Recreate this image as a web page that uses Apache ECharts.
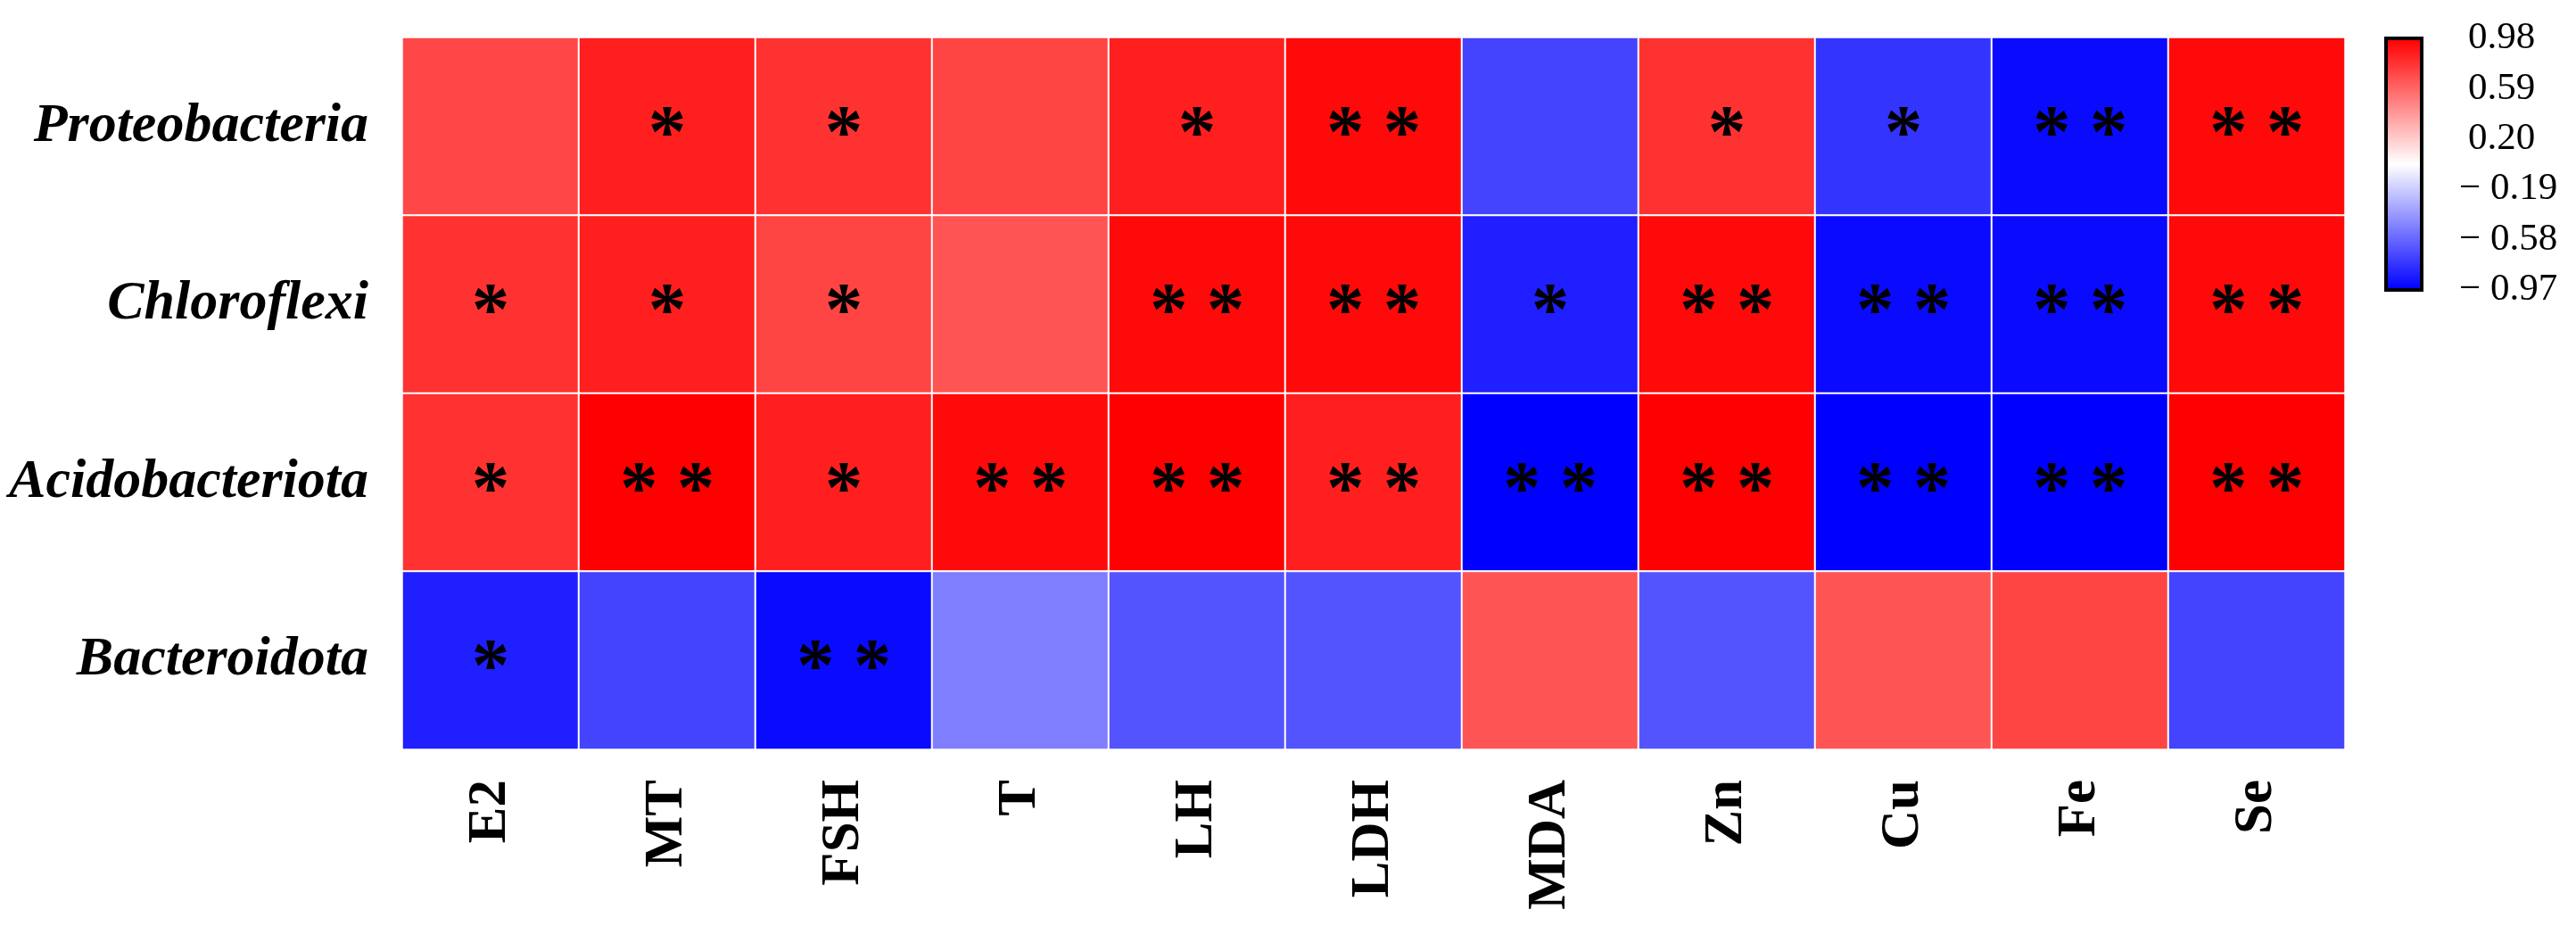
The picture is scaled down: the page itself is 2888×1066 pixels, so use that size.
<!DOCTYPE html>
<html>
<head>
<meta charset="utf-8">
<script src="https://cdn.jsdelivr.net/npm/echarts@6/dist/echarts.min.js"></script>
<style>
  html, body { margin: 0; padding: 0; background: #fff; }
  #container { width: 2888px; height: 1066px; }
</style>
</head>
<body>
<div id="container"></div>
<script>
var xCats = ['E2', 'MT', 'FSH', 'T', 'LH', 'LDH', 'MDA', 'Zn', 'Cu', 'Fe', 'Se'];
var yCats = ['Proteobacteria', 'Chloroflexi', 'Acidobacteriota', 'Bacteroidota'];

// correlation values
var rProteo = [0.71, 0.86, 0.79, 0.72, 0.86, 0.94, -0.71, 0.79, -0.77, -0.93, 0.94];
var rChloro = [0.79, 0.86, 0.72, 0.66, 0.94, 0.94, -0.85, 0.94, -0.93, -0.93, 0.94];
var rAcido  = [0.79, 0.98, 0.86, 0.94, 0.98, 0.86, -0.97, 0.98, -0.97, -0.97, 0.98];
var rBacte  = [-0.85, -0.71, -0.93, -0.49, -0.65, -0.65, 0.66, -0.65, 0.66, 0.72, -0.71];

// significance marks
var sProteo = ['', '*', '*', '', '*', '**', '', '*', '*', '**', '**'];
var sChloro = ['*', '*', '*', '', '**', '**', '*', '**', '**', '**', '**'];
var sAcido  = ['*', '**', '*', '**', '**', '**', '**', '**', '**', '**', '**'];
var sBacte  = ['*', '', '**', '', '', '', '', '', '', '', ''];

// colour bar tick labels, bottom to top
var barTicks = ['− 0.97', '− 0.58', '− 0.19', '0.20', '0.59', '0.98'];

var rows = [rProteo, rChloro, rAcido, rBacte];
var sigs = [sProteo, sChloro, sAcido, sBacte];
var data = [];
for (var i = 0; i < rows.length; i++) {
  for (var j = 0; j < xCats.length; j++) {
    data.push([j, i, rows[i][j], sigs[i][j]]);
  }
}

var serif = 'Liberation Serif, Times New Roman, serif';
var dom = document.getElementById('container');
var myChart = echarts.init(dom, null, {renderer: 'canvas'});

myChart.setOption({
  backgroundColor: '#fff',
  animation: false,
  grid: [
    {left: 451, right: 259, top: 42, bottom: 226},
    {left: 2675, width: 40, top: 43, height: 282, show: true, z: 10,
      borderColor: '#000', borderWidth: 4, backgroundColor: 'transparent'}
  ],
  xAxis: [
    {
      type: 'category',
      data: xCats,
      axisLine: {show: false},
      axisTick: {show: false},
      splitLine: {show: false},
      axisLabel: {
        rotate: 90,
        margin: 34,
        interval: 0,
        fontFamily: serif,
        fontWeight: 'bold',
        fontSize: 61,
        color: '#000'
      }
    },
    {type: 'value', gridIndex: 1, show: false}
  ],
  yAxis: [
    {
      type: 'category',
      data: yCats,
      inverse: true,
      axisLine: {show: false},
      axisTick: {show: false},
      splitLine: {show: false},
      axisLabel: {
        margin: 38,
        fontFamily: serif,
        fontWeight: 'bold',
        fontStyle: 'italic',
        fontSize: 62,
        color: '#000'
      }
    },
    {
      type: 'category',
      gridIndex: 1,
      data: barTicks,
      position: 'right',
      boundaryGap: false,
      axisLine: {show: false},
      splitLine: {show: false},
      axisTick: {show: true, inside: false, length: 20, lineStyle: {color: '#000', width: 3}},
      axisLabel: {
        margin: 42,
        align: 'left',
        fontFamily: serif,
        fontSize: 43,
        color: '#000',
        formatter: function (v) {
          return v.indexOf('−') === 0 ? v : '{p|' + v + '}';
        },
        rich: {
          p: {fontFamily: serif, fontSize: 43, color: '#000', padding: [0, 0, 0, 10]}
        }
      }
    }
  ],
  visualMap: {
    type: 'continuous',
    min: -0.97,
    max: 0.98,
    dimension: 2,
    seriesIndex: 0,
    calculable: false,
    orient: 'vertical',
    left: 2675,
    top: 43,
    itemWidth: 40,
    itemHeight: 282,
    padding: 0,
    text: null,
    hoverLink: false,
    inRange: {color: ['#0000FF', '#FFFFFF', '#FF0000']}
  },
  series: [
    {
      type: 'heatmap',
      data: data,
      itemStyle: {borderColor: '#fff', borderWidth: 2},
      label: {
        show: true,
        fontFamily: serif,
        fontWeight: 'bold',
        fontSize: 85,
        color: '#000',
        offset: [0, 12],
        formatter: function (p) {
          var s = p.data[3];
          return s === '**' ? '* *' : s;
        }
      },
      emphasis: {disabled: true}
    }
  ]
});
</script>
</body>
</html>
